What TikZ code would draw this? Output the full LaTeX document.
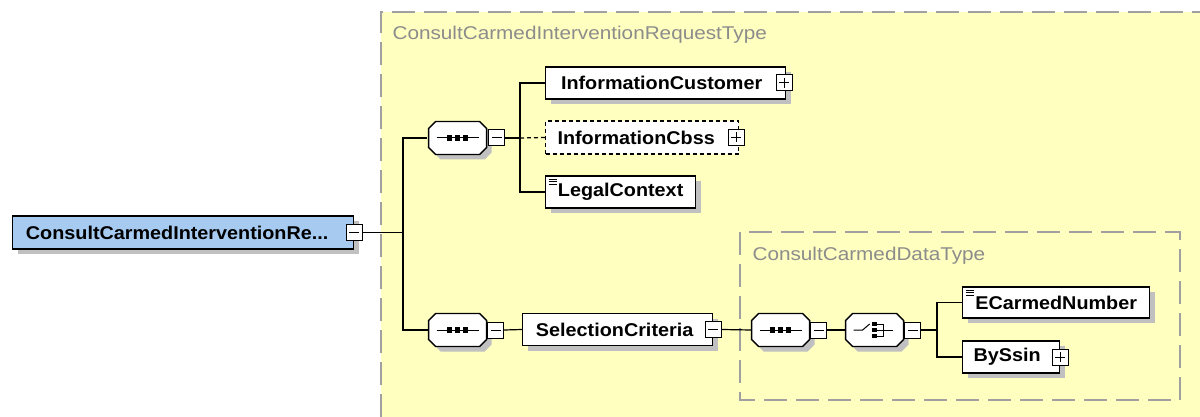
\documentclass[tikz,border=0pt]{standalone}
\usepackage{fontspec}
\setmainfont{Liberation Sans}
\newfontfamily\elemfont[FakeStretch=1.07]{Liberation Sans}
\newfontfamily\typefont[FakeStretch=1.12]{Liberation Sans}
\usepackage{tikz}
\usetikzlibrary{positioning}
\usetikzlibrary{shadows}

\definecolor{typeYellow}{RGB}{255,255,192}
\definecolor{rootBlue}{RGB}{166,202,240}
\definecolor{shadowGray}{RGB}{192,192,192}
\definecolor{frameGray}{RGB}{160,160,160}
\definecolor{typeGray}{RGB}{140,140,140}

\begin{document}
\begin{tikzpicture}[
    x=1pt, y=-1pt, % pixel grid, y downwards
    line width=1.2pt,
    % Shadow under boxes
    boxShadow/.style={
        drop shadow={shadow xshift=5pt, shadow yshift=-5pt, fill=shadowGray, opacity=1}
    },
    % Element boxes
    elemNode/.style={
        rectangle,
        draw,
        fill=white,
        line width=1.3pt,
        inner sep=0pt,
        minimum height=32pt,
        anchor=west,
        font=\elemfont\bfseries\fontsize{18.5pt}{20pt}\selectfont
    },
    mandatory/.style={elemNode, boxShadow},
    optional/.style={elemNode, dashed, dash pattern=on 4pt off 3pt},
    % Simple content marker in the top left corner
    textual/.style={
        path picture={
            \foreach \dy in {3,5.5,8}
                \draw[black, line width=0.8pt] ([xshift=3pt,yshift=-\dy pt]path picture bounding box.north west) -- ++(8pt,0);
        }
    },
    % Compositors: the node only holds the anchors, the pic draws the octagon
    compositor/.style={
        rectangle,
        inner sep=0pt,
        minimum width=58pt,
        minimum height=33pt,
        anchor=west
    },
    octagon/.pic={
        \fill[shadowGray, shift={(5,5)}] (-22,-16.5) -- (22,-16.5) -- (29,-9.5) -- (29,9.5) -- (22,16.5) -- (-22,16.5) -- (-29,9.5) -- (-29,-9.5) -- cycle;
        \draw[fill=white, line width=1.3pt] (-22,-16.5) -- (22,-16.5) -- (29,-9.5) -- (29,9.5) -- (22,16.5) -- (-22,16.5) -- (-29,9.5) -- (-29,-9.5) -- cycle;
    },
    sequenceGlyph/.pic={
        \pic {octagon};
        \draw[line width=1pt] (-21,0) -- (21,0);
        \foreach \dx in {-8,0,8}
            \fill[black] (\dx-2.6,-2.6) rectangle (\dx+2.6,2.6);
    },
    choiceGlyph/.pic={
        \pic {octagon};
        \draw[line width=1pt] (-21,0) -- (-12,0) -- (-5,-6);
        \foreach \dy in {-6,0,6}
            \fill[black] (-2.4,\dy-2.4) rectangle (2.4,\dy+2.4);
        \draw[line width=1pt] (0,-6) -| (9,6) -- (0,6);
        \draw[line width=1pt] (0,0) -- (18,0);
    },
    % Expand / collapse buttons
    expander/.style={
        rectangle,
        draw,
        fill=white,
        line width=1pt,
        inner sep=0pt,
        minimum size=16pt
    },
    minusBox/.style={
        expander,
        path picture={
            \draw[black, line width=1pt] ([xshift=3pt]path picture bounding box.west) -- ([xshift=-3pt]path picture bounding box.east);
        }
    },
    plusBox/.style={
        expander,
        path picture={
            \draw[black, line width=1pt] ([xshift=3pt]path picture bounding box.west) -- ([xshift=-3pt]path picture bounding box.east);
            \draw[black, line width=1pt] ([yshift=-3pt]path picture bounding box.north) -- ([yshift=3pt]path picture bounding box.south);
        }
    },
    typeFrame/.style={
        draw=frameGray,
        line width=1.6pt,
        dash pattern=on 23pt off 9pt
    },
    typeLabel/.style={
        anchor=base west,
        inner sep=0pt,
        text=typeGray,
        font=\typefont\fontsize{18.5pt}{20pt}\selectfont
    }
]

    \useasboundingbox (0,0) rectangle (1200,417);
    \fill[white] (0,0) rectangle (1200,417);

    % Complex type areas
    \fill[typeYellow] (381,12) rectangle (1215,430);
    \draw[typeFrame] (1215,12) -- (381,12) -- (381,430);
    \node[typeLabel] (outerType) at (392,39.5) {ConsultCarmedInterventionRequestType};

    \draw[typeFrame] (740,232) rectangle (1180,400);
    \node[typeLabel] (innerType) at (752,260) {ConsultCarmedDataType};

    % Root element
    \node[mandatory, fill=rootBlue, minimum width=341pt, minimum height=33pt] (root) at (12,232.5) {ConsultCarmedInterventionRe...\hspace*{12pt}};
    \node[minusBox] (rootX) at (root.east) {};

    % First sequence
    \node[compositor, minimum width=60pt] (seqA) at (427,138) {};
    \pic at (seqA.center) {sequenceGlyph};
    \node[minusBox, right=0pt of seqA] (seqAX) {};

    \node[mandatory, minimum width=240pt] (infoCustomer) at (545,83) {InformationCustomer\hspace*{8pt}};
    \node[plusBox] (infoCustomerX) at ([xshift=-2pt]infoCustomer.east) {};
    \node[optional, minimum width=193pt, minimum height=33pt] (infoCbss) at (545,137.5) {InformationCbss\hspace*{12pt}};
    \node[plusBox] (infoCbssX) at ([xshift=-3pt]infoCbss.east) {};
    \node[mandatory, textual, minimum width=150pt] (legal) at (545,192) {LegalContext};

    % Second sequence
    \node[compositor] (seqB) at (428,330) {};
    \pic at (seqB.center) {sequenceGlyph};
    \node[minusBox, right=0pt of seqB] (seqBX) {};
    \node[mandatory, minimum width=190pt] (selection) at (522,329.5) {SelectionCriteria\hspace*{6pt}};
    \node[minusBox] (selectionX) at (selection.east) {};

    % Selection criteria content
    \node[compositor] (seqC) at (751,330) {};
    \pic at (seqC.center) {sequenceGlyph};
    \node[minusBox, right=0pt of seqC] (seqCX) {};
    \node[compositor] (choiceC) at (845,330) {};
    \pic at (choiceC.center) {choiceGlyph};
    \node[minusBox, right=0pt of choiceC] (choiceCX) {};

    \node[mandatory, textual, minimum width=187pt, minimum height=31pt] (eCarmed) at (962,302.5) {ECarmedNumber};
    \node[mandatory, minimum width=97pt] (bySsin) at (962,357) {BySsin\hspace*{8pt}};
    \node[plusBox] (bySsinX) at (bySsin.east) {};

    % Connectors
    \coordinate (rootFork) at (403,232.5);
    \coordinate (forkA) at (520,138);
    \coordinate (forkC) at (937,330);

    \draw (rootX.east) -- (rootFork);
    \draw (seqA.west) -| (rootFork) |- (seqB.west);

    \draw (seqAX.east) -- (forkA);
    \draw (infoCustomer.west) -| (forkA) |- (legal.west);
    \draw[dashed, dash pattern=on 4pt off 3pt] (forkA) -- (infoCbss.west);

    \draw (seqBX.east) -- (selection.west);
    \draw (selectionX.east) -- (seqC.west);
    \draw (seqCX.east) -- (choiceC.west);
    \draw (choiceCX.east) -- (forkC);
    \draw (eCarmed.west) -| (forkC) |- (bySsin.west);

\end{tikzpicture}
\end{document}
